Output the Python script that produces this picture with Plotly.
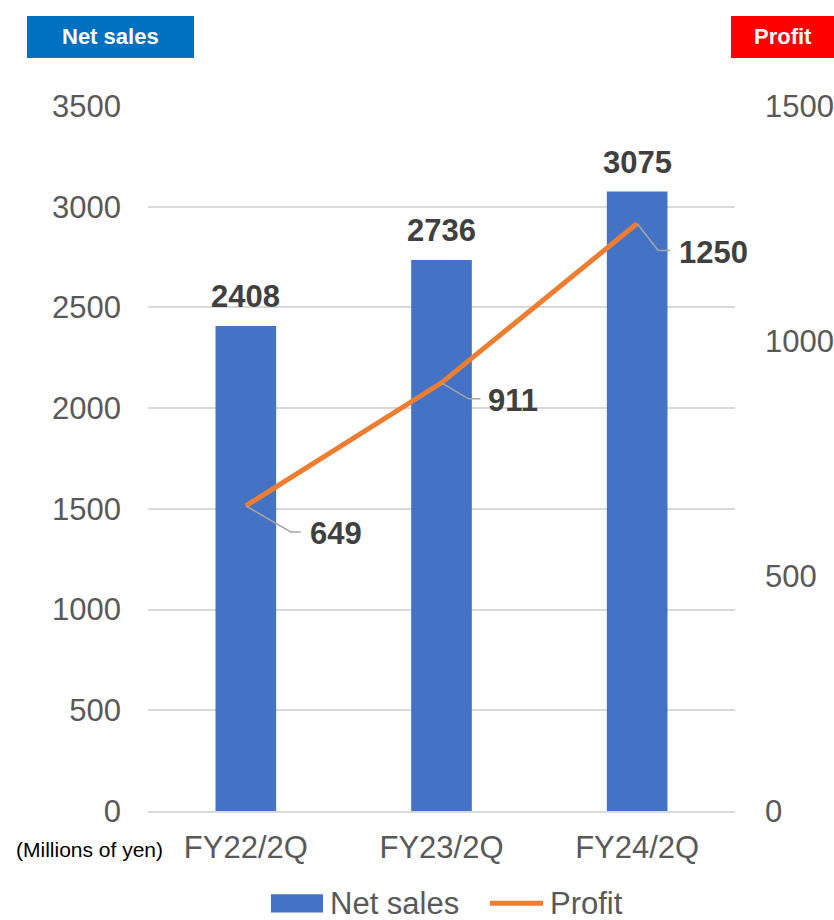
import plotly.graph_objects as go

# ---- data ----
categories = ["FY22/2Q", "FY23/2Q", "FY24/2Q"]
net_sales = [2408, 2736, 3075]
profit = [649, 911, 1250]
left_ticks = [0, 500, 1000, 1500, 2000, 2500, 3000, 3500]
right_ticks = [0, 500, 1000, 1500]

FONT = "Liberation Sans, Arial, sans-serif"
BAR_C = "#4472C4"
LINE_C = "#ED7D31"
TICK_C = "#595959"
LABEL_C = "#404040"
GRID_C = "#D9D9D9"

# label placement (pixel offsets) for profit callouts: elbow dx, dy(up+), tail len, text dx
callout = [(45, -26, 10, 62), (27, -16, 12, 44), (21, -27, 12, 40)]

fig = go.Figure()
fig.add_trace(go.Bar(x=categories, y=net_sales, name="Net sales",
                     marker=dict(color=BAR_C, line=dict(width=0)), width=0.31,
                     yaxis="y", showlegend=False))
fig.add_trace(go.Scatter(x=categories, y=profit, name="Profit", mode="lines",
                         line=dict(color=LINE_C, width=5), yaxis="y2",
                         showlegend=False))

ann = []
shapes = []
for i, v in enumerate(net_sales):
    ann.append(dict(x=i, y=v, xref="x", yref="y", text=f"<b>{v}</b>",
                    showarrow=False, xanchor="center", yanchor="middle", yshift=29,
                    font=dict(family=FONT, size=31, color=LABEL_C)))
for i, v in enumerate(profit):
    ex, ey, hl, tx = callout[i]
    shapes.append(dict(type="path", xref="x", yref="y2", xsizemode="pixel",
                       ysizemode="pixel", xanchor=i, yanchor=v,
                       path=f"M0,0 L{ex},{ey} L{ex+hl},{ey}",
                       line=dict(color="#A6A6A6", width=1.5)))
    ann.append(dict(x=i, y=v, xref="x", yref="y2", text=f"<b>{v}</b>",
                    showarrow=False, xanchor="left", yanchor="middle",
                    xshift=tx, yshift=ey - 2,
                    font=dict(family=FONT, size=31, color=LABEL_C)))

# header boxes
shapes.append(dict(type="rect", xref="paper", yref="paper", x0=-0.2061, x1=0.0784,
                   y0=1.0681, y1=1.1277, fillcolor="#0070C0", line=dict(width=0)))
shapes.append(dict(type="rect", xref="paper", yref="paper", x0=0.9932, x1=1.1687,
                   y0=1.0681, y1=1.1277, fillcolor="#FF0000", line=dict(width=0)))
ann.append(dict(x=-0.0647, y=1.0979, xref="paper", yref="paper", text="<b>Net sales</b>",
                showarrow=False, xanchor="center", yanchor="middle",
                font=dict(family=FONT, size=22, color="white")))
ann.append(dict(x=1.0818, y=1.0979, xref="paper", yref="paper", text="<b>Profit</b>",
                showarrow=False, xanchor="center", yanchor="middle",
                font=dict(family=FONT, size=22, color="white")))
ann.append(dict(x=0.029, y=-0.0553, xref="paper", yref="paper", text="(Millions of yen)",
                showarrow=False, xanchor="right", yanchor="middle",
                font=dict(family=FONT, size=21, color="#000000")))

# legend (custom)
LEG_Y = -0.131
shapes.append(dict(type="rect", xref="paper", yref="paper", x0=0.2095, x1=0.2981,
                   y0=LEG_Y - 0.0128, y1=LEG_Y + 0.0128, fillcolor=BAR_C, line=dict(width=0)))
shapes.append(dict(type="line", xref="paper", yref="paper", x0=0.5826, x1=0.6729,
                   y0=LEG_Y, y1=LEG_Y, line=dict(color=LINE_C, width=5)))
ann.append(dict(x=0.3066, y=LEG_Y, xref="paper", yref="paper", text="Net sales",
                showarrow=False, xanchor="left", yanchor="middle",
                font=dict(family=FONT, size=31, color=TICK_C)))
ann.append(dict(x=0.6814, y=LEG_Y, xref="paper", yref="paper", text="Profit",
                showarrow=False, xanchor="left", yanchor="middle",
                font=dict(family=FONT, size=31, color=TICK_C)))

fig.update_layout(
    width=834, height=920,
    margin=dict(l=148, r=99, t=106, b=109, autoexpand=False),
    paper_bgcolor="white", plot_bgcolor="white",
    font=dict(family=FONT, color=TICK_C),
    showlegend=False,
    xaxis=dict(type="category", categoryorder="array", categoryarray=categories,
               range=[-0.5, len(categories) - 0.5],
               tickfont=dict(size=31, color=TICK_C), showgrid=False,
               showline=True, linecolor=GRID_C, linewidth=1.5, ticks="",
               ticklabelstandoff=8, automargin=False),
    yaxis=dict(range=[0, 3500], tickvals=left_ticks, showgrid=True,
               gridcolor=GRID_C, gridwidth=1.5, zeroline=False, ticks="",
               tickfont=dict(size=31, color=TICK_C), ticklabelstandoff=26,
               automargin=False),
    yaxis2=dict(range=[0, 1500], tickvals=right_ticks, overlaying="y", side="right",
                showgrid=False, zeroline=False, ticks="",
                tickfont=dict(size=31, color=TICK_C), ticklabelstandoff=29,
                automargin=False),
    shapes=shapes, annotations=ann,
)

fig.write_html("out.html")
